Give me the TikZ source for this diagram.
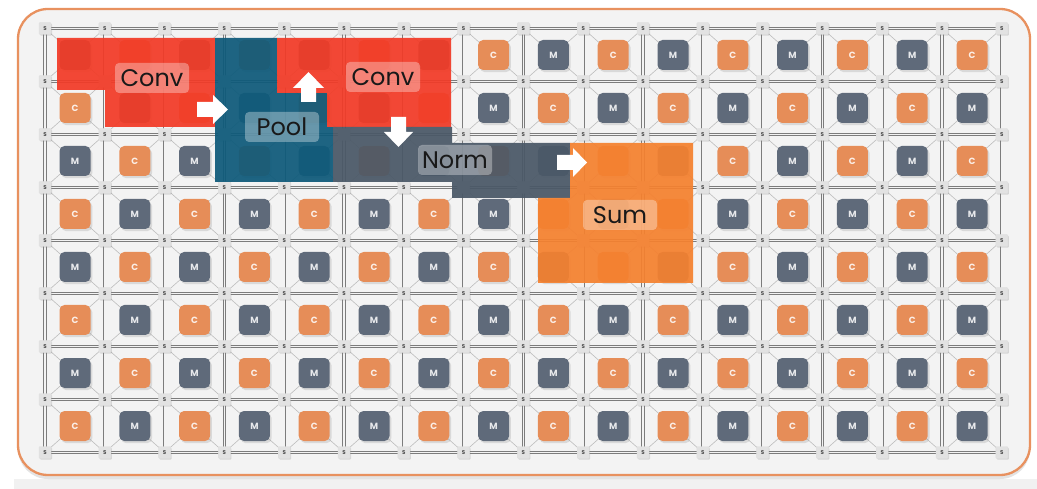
\documentclass[tikz,border=0pt]{standalone}
\usepackage{fontspec}
\setmainfont{Poppins}
\usetikzlibrary{shadows}
\definecolor{bgin}{HTML}{F3F3F3}
\definecolor{framec}{HTML}{E8915F}
\definecolor{tileC}{HTML}{E68D58}
\definecolor{tileM}{HTML}{5F6A7A}
\definecolor{gridc}{HTML}{7C7C7C}
\definecolor{diagc}{HTML}{BDBDBD}
\definecolor{sfill}{HTML}{E2E2E2}
\definecolor{convc}{HTML}{F23B27}
\definecolor{poolc}{HTML}{0E5A7A}
\definecolor{normc}{HTML}{4A5867}
\definecolor{sumc}{HTML}{F5812F}
\makeatletter
\newcommand\ifcov[3]{\edef\cov@tmp{\noexpand\in@{,#1,}{#2}}\cov@tmp\ifin@#3\fi}
\newcommand\ifnotcov[3]{\edef\cov@tmp{\noexpand\in@{,#1,}{#2}}\cov@tmp\ifin@\else#3\fi}
\makeatother
\def\covtiles{,0-0,0-1,0-2,1-1,1-2,0-3,1-3,2-3,2-4,1-4,0-4,0-5,0-6,1-5,1-6,2-5,2-6,2-7,2-8,2-9,2-10,3-8,3-9,3-10,4-8,4-9,4-10,}
\def\covs{,1-1,2-1,3-1,4-1,5-1,6-1,3-2,4-2,5-2,6-2,7-3,8-3,9-3,10-3,9-4,10-4,}
\tikzset{
  frame/.style={draw=framec,line width=2.3pt,fill=bgin,rounded corners=30pt,
     drop shadow={shadow xshift=0pt,shadow yshift=-4pt,opacity=.22}},
  gridline/.style={draw=gridc,line width=0.65pt,double=bgin,double distance=1.8pt},
  diagline/.style={draw=diagc,line width=0.6pt},
  tilebase/.style={minimum width=31pt,minimum height=30pt,rounded corners=5pt,inner sep=0pt,
     font=\fontsize{9}{9}\selectfont\bfseries,text=white,text opacity=.85,
     drop shadow={shadow xshift=1.8pt,shadow yshift=-2.2pt,opacity=.22}},
  ctile/.style={tilebase,fill=tileC},
  mtile/.style={tilebase,fill=tileM},
  sbox/.style={minimum width=12pt,minimum height=12pt,inner sep=0pt,fill=sfill,draw=white!75!gray,
     line width=0.4pt,rounded corners=1pt,font=\fontsize{5.5}{5.5}\selectfont\bfseries,text=black!70,
     drop shadow={shadow xshift=1pt,shadow yshift=-1.2pt,opacity=.25}},
  overlay/.style={fill opacity=.93,draw=none},
  arrowfill/.style={fill=white,draw=none},
  lbl/.style={fill=white,fill opacity=.33,text opacity=1,text=black!90,rounded corners=4pt,
     minimum width=74pt,minimum height=30pt,inner sep=2pt,font=\fontsize{24}{24}\selectfont}
}
\begin{document}
\begin{tikzpicture}[x=1pt,y=-1pt]
\useasboundingbox (0,0) rectangle (1037,489);
\fill[white] (0,0) rectangle (1037,489);
\fill[gray!11] (14,479) rectangle (1037,489);
\draw[frame] (18,9) rectangle (1030,475);
% grid coordinates
\foreach \i in {0,...,16}{
  \foreach \j in {0,...,8}{
    \pgfmathsetmacro\gx{45+59.8*\i}
    \pgfmathsetmacro\gy{28.5+53*\j}
    \coordinate (g-\i-\j) at (\gx,\gy);
  }
}
% diagonals
\foreach \i in {0,...,15}{
  \foreach \j in {0,...,7}{
    \pgfmathtruncatemacro\ii{\i+1}
    \pgfmathtruncatemacro\jj{\j+1}
    \draw[diagline] (g-\i-\j) -- (g-\ii-\jj);
    \draw[diagline] (g-\ii-\j) -- (g-\i-\jj);
  }
}
% grid lines
\foreach \i in {0,...,16}{ \draw[gridline] (g-\i-0) -- (g-\i-8); }
\foreach \j in {0,...,8}{ \draw[gridline] (g-0-\j) -- (g-16-\j); }
% tiles
\foreach \c in {0,...,15}{
  \foreach \r in {0,...,7}{
    \pgfmathsetmacro\tx{75+59.8*\c}
    \pgfmathsetmacro\ty{55+53*\r}
    \pgfmathtruncatemacro\odd{mod(\r+\c,2)}
    \ifnum\odd=1 \def\tstyle{ctile}\def\tlet{C}\else \def\tstyle{mtile}\def\tlet{M}\fi
    \ifcov{\r-\c}{\covtiles}{\def\tlet{}}
    \node[\tstyle] (t-\r-\c) at (\tx,\ty) {\tlet};
  }
}
% switch boxes
\foreach \i in {0,...,16}{
  \foreach \j in {0,...,8}{
    \def\slet{S}
    \ifcov{\i-\j}{\covs}{\def\slet{}}
    \node[sbox] (s-\i-\j) at (g-\i-\j) {\slet};
  }
}
% overlays
\fill[overlay,convc] (57,38) -- (215,38) -- (215,127) -- (105,127) -- (105,90) -- (57,90) -- cycle;
\fill[overlay,poolc] (215,38) -- (277,38) -- (277,93) -- (327,93) -- (327,127) -- (333,127) -- (333,182) -- (215,182) -- cycle;
\fill[overlay,convc] (277,38) -- (451,38) -- (451,127) -- (327,127) -- (327,93) -- (277,93) -- cycle;
\fill[overlay,normc] (333,127) -- (452,127) -- (452,143) -- (570,143) -- (570,198) -- (452,198) -- (452,182) -- (333,182) -- cycle;
\fill[overlay,sumc] (570,143) -- (693,143) -- (693,283) -- (538,283) -- (538,198) -- (570,198) -- cycle;
% arrows
\fill[arrowfill] (197,102) -- (213,102) -- (213,95) -- (228,109.5) -- (213,124) -- (213,117) -- (197,117) -- cycle;
\fill[arrowfill] (301,102) -- (301,88) -- (293,88) -- (308.5,72) -- (324,88) -- (316,88) -- (316,102) -- cycle;
\fill[arrowfill] (391,117) -- (406,117) -- (406,132) -- (413,132) -- (398.5,147) -- (384,132) -- (391,132) -- cycle;
\fill[arrowfill] (557,155) -- (573,155) -- (573,148) -- (587,162.5) -- (573,177) -- (573,170) -- (557,170) -- cycle;
% labels
\node[lbl] (conv1) at (152,78) {Conv};
\node[lbl] (pool) at (282,127) {Pool};
\node[lbl] (conv2) at (383,77) {Conv};
\node[lbl] (norm) at (455,160) {Norm};
\node[lbl] (sum) at (620,215) {Sum};
\end{tikzpicture}
\end{document}
